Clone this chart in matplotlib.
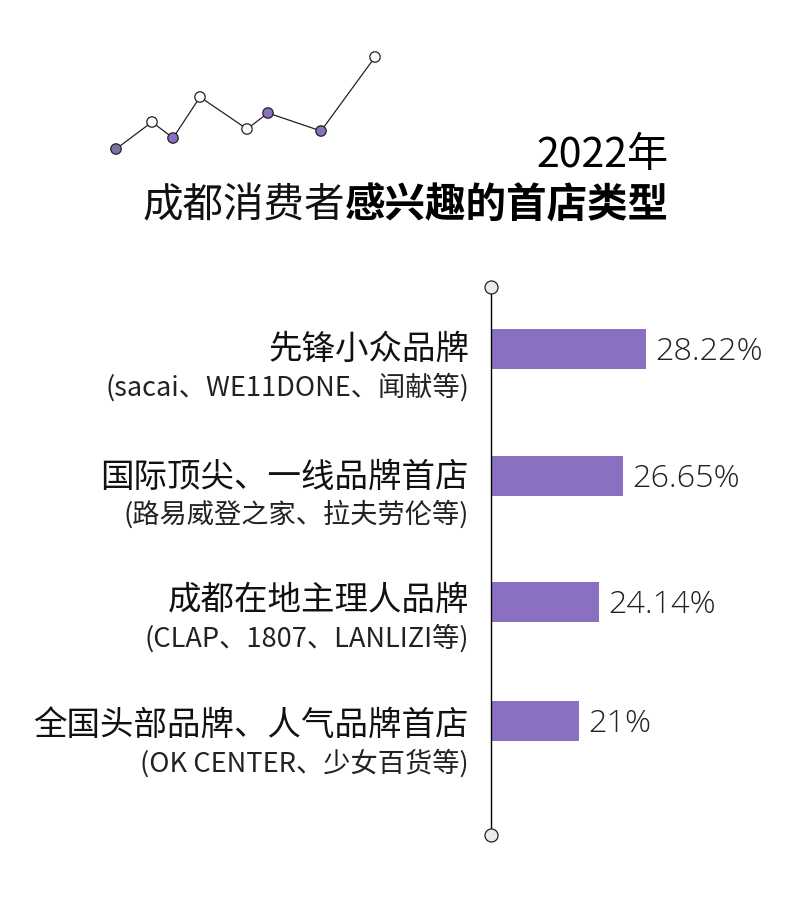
import matplotlib
matplotlib.use("Agg")
import matplotlib.pyplot as plt

plt.rcParams['font.family'] = ['Noto Sans CJK SC', 'DejaVu Sans']

category_main = ["先锋小众品牌", "国际顶尖、一线品牌首店", "成都在地主理人品牌", "全国头部品牌、人气品牌首店"]
category_sub = ["(sacai、WE11DONE、闻献等)", "(路易威登之家、拉夫劳伦等)", "(CLAP、1807、LANLIZI等)", "(OK CENTER、少女百货等)"]
value_labels = ["28.22%", "26.65%", "24.14%", "21%"]
bar_lengths = [155, 132, 108, 88]   # as drawn in the picture
bar_centres = [349, 476, 602, 721]
main_centres = [349, 477, 600, 725]
sub_centres = [387, 514, 638, 763]

trend_x = [116, 152, 173, 200, 247, 268, 321, 375]
trend_y = [149, 122, 138, 97, 129, 113, 131, 57]
trend_colors = ["#7F6FA6", "white", "#8B6FC1", "white", "white", "#8B6FC1", "#8B6FC1", "white"]

PURPLE = "#8B6FC1"
BASE = 491

fig = plt.figure(figsize=(8, 9.1), dpi=100)
ax = fig.add_axes([0, 0, 1, 1])
ax.set_xlim(0, 800)
ax.set_ylim(910, 0)
ax.axis("off")

# decorative trend
ax.plot(trend_x, trend_y, color="#222222", lw=0.9, zorder=2)
ax.scatter(trend_x, trend_y, s=56, c=trend_colors,
           edgecolors="#222222", linewidths=0.9, zorder=3)

# title
ax.text(669, 155, "2022年", ha="right", va="center", fontsize=29.6, color="black")
ax.text(345, 206, "成都消费者", ha="right", va="center", fontsize=29.2, color="#111111")
ax.text(669, 206, "感兴趣的首店类型", ha="right", va="center", fontsize=29.2,
        fontweight="bold", color="black")

# bars
ax.barh(bar_centres, bar_lengths, height=40, left=BASE, color=PURPLE, zorder=2)

# axis line with end caps
ax.plot([BASE, BASE], [287, 835], color="black", lw=1.0, zorder=3)
ax.scatter([BASE, BASE], [287, 835], s=88, c="#EBEBEB",
           edgecolors="#222222", linewidths=0.9, zorder=4)

for c, mc, sc, m, s, v, l in zip(bar_centres, main_centres, sub_centres,
                                 category_main, category_sub, value_labels, bar_lengths):
    ax.text(469, mc, m, ha="right", va="center", fontsize=24.1, color="#111111")
    ax.text(469, sc, s, ha="right", va="center", fontsize=19.6, color="#222222")
    ax.text(BASE + l + 9, c + 3, v, ha="left", va="center", fontsize=23.3,
            color="#222222", family=["Open Sans", "DejaVu Sans"], fontweight="light")

fig.savefig("out.png", dpi=100, facecolor="white")
